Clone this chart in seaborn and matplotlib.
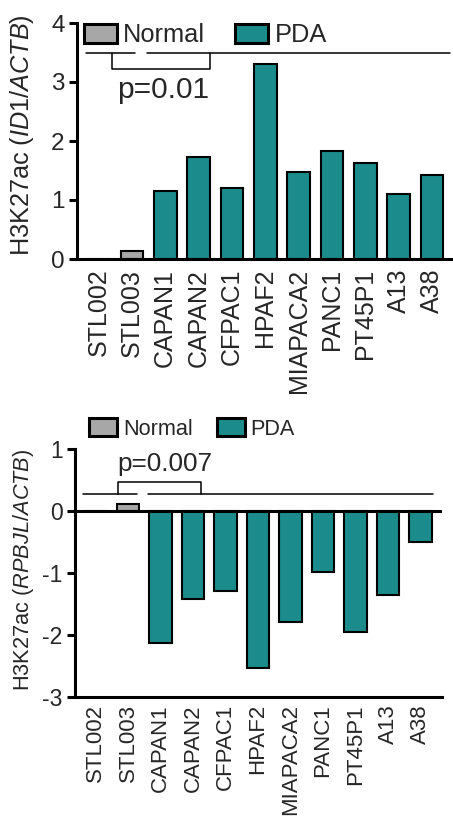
import matplotlib
matplotlib.use("Agg")
import matplotlib.pyplot as plt
from matplotlib.patches import Patch
import pandas as pd
import seaborn as sns

# Cell lines and their groups
samples = ["STL002", "STL003", "CAPAN1", "CAPAN2", "CFPAC1", "HPAF2",
           "MIAPACA2", "PANC1", "PT45P1", "A13", "A38"]
groups = ["Normal", "Normal"] + ["PDA"] * 9

# H3K27ac ChIP-qPCR signal, normalised to ACTB
id1_values = [0.0, 0.14, 1.15, 1.73, 1.20, 3.30, 1.47, 1.83, 1.62, 1.10, 1.42]
rbpjl_values = [0.0, 0.11, -2.13, -1.42, -1.29, -2.52, -1.78, -0.98, -1.95, -1.35, -0.49]

id1_yticks = [0, 1, 2, 3, 4]
rbpjl_yticks = [-3, -2, -1, 0, 1]
id1_pvalue = "p=0.01"
rbpjl_pvalue = "p=0.007"
group_order = ["Normal", "PDA"]
palette = {"Normal": "#a7a7a7", "PDA": "#1b8b8b"}

sns.set_theme(style="white")
plt.rcParams["font.family"] = ["Liberation Sans", "DejaVu Sans"]
plt.rcParams["mathtext.fontset"] = "custom"
plt.rcParams["mathtext.rm"] = "Liberation Sans"
plt.rcParams["mathtext.it"] = "Liberation Sans:italic"

W, H = 453, 818
fig = plt.figure(figsize=(W / 100, H / 100), dpi=100)


def px_axes(left, top, right, bottom):
    return fig.add_axes([left / W, 1 - bottom / H, (right - left) / W, (bottom - top) / H])


ax1 = px_axes(77, 23, 453, 259)
ax2 = px_axes(75, 449.3, 442, 697.3)

SPINE_LW = 2.2
EDGE_LW = 1.5
LINE_LW = 1.1


def draw_panel(ax, values, yticks, tick_fs):
    df = pd.DataFrame({"sample": samples, "group": groups, "value": values})
    sns.barplot(data=df, x="sample", y="value", hue="group", hue_order=group_order,
                palette=palette, saturation=1, dodge=False, width=0.68,
                edgecolor="black", linewidth=EDGE_LW, legend=False, ax=ax)
    ax.set_ylim(yticks[0], yticks[-1])
    ax.set_yticks(yticks)
    ax.set_yticklabels([str(t) for t in yticks], fontsize=tick_fs)
    ax.set_xlabel("")
    for s in ("top", "right"):
        ax.spines[s].set_visible(False)
    for s in ("left", "bottom"):
        ax.spines[s].set_linewidth(SPINE_LW)
        ax.spines[s].set_color("black")
    ax.tick_params(axis="y", which="major", direction="out", length=6, width=SPINE_LW,
                   color="black", pad=3, left=True)


def draw_legend(ax, fs, anchor, hl, hh, tp, cs):
    handles = [Patch(facecolor=palette[g], edgecolor="black", linewidth=SPINE_LW, label=g)
               for g in group_order]
    ax.legend(handles=handles, loc="upper left", bbox_to_anchor=anchor,
              bbox_transform=fig.transFigure, ncol=2, frameon=False, fontsize=fs,
              borderpad=0, borderaxespad=0, handlelength=hl, handleheight=hh,
              handletextpad=tp, columnspacing=cs)


# ---- ID1 panel ----
draw_panel(ax1, id1_values, id1_yticks, 17.5)
ax1.set_xlim(-0.645, 10.63)
ax1.set_xticks(range(len(samples)))
ax1.set_xticklabels(samples, rotation=90, fontsize=18)
ax1.tick_params(axis="x", length=0, pad=7)
ax1.set_ylabel(r"H3K27ac ($\mathit{ID1/ACTB}$)", fontsize=18.2)
ax1.yaxis.set_label_coords(-0.108, 0.523)
# group lines and comparison bracket
ax1.plot([-0.375, 1.09], [3.49, 3.49], color="black", lw=LINE_LW, clip_on=False)
ax1.plot([1.45, 10.54], [3.49, 3.49], color="black", lw=LINE_LW, clip_on=False)
ax1.plot([0.405, 0.405, 3.34, 3.34], [3.49, 3.22, 3.22, 3.49], color="black", lw=LINE_LW)
ax1.text(1.93, 2.86, id1_pvalue, ha="center", va="center", fontsize=21.5)
draw_legend(ax1, 18.3, (84 / W, 1 - 23 / H), 1.3, 0.79, 0.24, 1.18)

# ---- RBPJL panel ----
draw_panel(ax2, rbpjl_values, rbpjl_yticks, 16.5)
ax2.set_xlim(-0.63, 10.66)
ax2.set_xticks(range(len(samples)))
ax2.set_xticklabels(samples, rotation=90, fontsize=16)
ax2.tick_params(axis="x", length=0, pad=5)
ax2.axhline(0, color="black", lw=SPINE_LW, zorder=5)
ax2.set_ylabel(r"H3K27ac ($\mathit{RPBJL/ACTB}$)", fontsize=15.7)
ax2.yaxis.set_label_coords(-0.105, 0.516)
ax2.plot([-0.385, 1.28], [0.285, 0.285], color="black", lw=LINE_LW)
ax2.plot([1.62, 10.38], [0.285, 0.285], color="black", lw=LINE_LW)
ax2.plot([0.69, 0.69, 3.25, 3.25], [0.285, 0.48, 0.48, 0.285], color="black", lw=LINE_LW)
ax2.text(2.12, 0.77, rbpjl_pvalue, ha="center", va="center", fontsize=18.8)
draw_legend(ax2, 15.6, (89 / W, 1 - 418 / H), 1.29, 0.92, 0.28, 1.1)

fig.savefig("out.png", dpi=100)
